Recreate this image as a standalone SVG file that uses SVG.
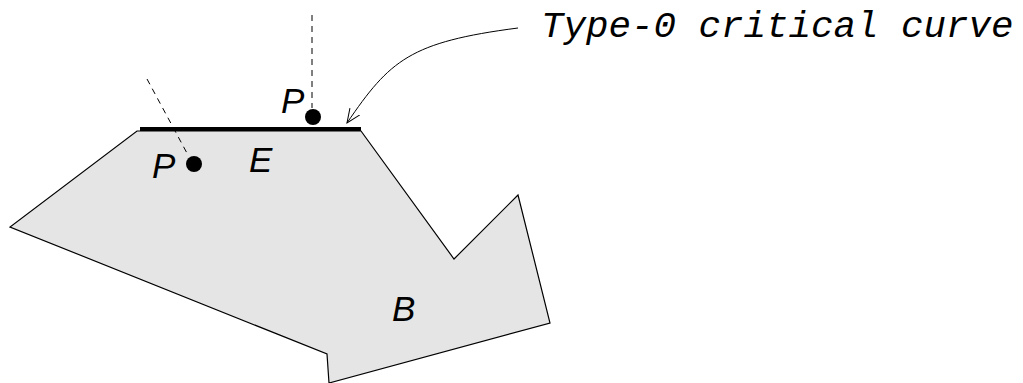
<svg xmlns="http://www.w3.org/2000/svg" width="1023" height="383" viewBox="0 0 1023 383">
<style>
.lbl{font-family:"Liberation Sans",Arial,sans-serif;font-style:italic;font-size:35px;fill:#000}
.mono{font-family:"Liberation Mono","Courier New",monospace;font-style:italic;font-size:37.5px;fill:#000}
.dash{stroke:#000;stroke-width:1;stroke-dasharray:6,5;fill:none}
</style>
<defs>
<marker id="open" markerWidth="16" markerHeight="16" refX="14" refY="8" orient="auto" markerUnits="userSpaceOnUse">
<path d="M0,2 L14,8 L0,14" fill="none" stroke="#000" stroke-width="1"/>
</marker>
</defs>
<g id="region-B">
<polygon points="137,131 361,131 454,259 518,195 550,323 329,383 327,354 10,227" fill="#e5e5e5" stroke="#000" stroke-width="1.2"/>
<text class="lbl" x="392" y="321">B</text>
</g>
<g id="edge-E">
<line x1="140" y1="129" x2="361" y2="129" stroke="#000" stroke-width="4"/>
<text class="lbl" x="249" y="172">E</text>
</g>
<g id="point-P-upper">
<line class="dash" x1="312" y1="15" x2="312" y2="108"/>
<circle cx="313" cy="117" r="8" fill="#000"/>
<text class="lbl" x="281" y="113">P</text>
</g>
<g id="point-P-lower">
<line class="dash" x1="147" y1="79" x2="188" y2="155"/>
<circle cx="194" cy="164" r="8" fill="#000"/>
<text class="lbl" x="152" y="178">P</text>
</g>
<g id="label-curve">
<text class="mono" x="541" y="37">Type-0 critical curve</text>
</g>
<g id="connectors">
<path d="M518,28 C410,42 390,60 347,123" fill="none" stroke="#000" stroke-width="1" marker-end="url(#open)"/>
</g>
</svg>
